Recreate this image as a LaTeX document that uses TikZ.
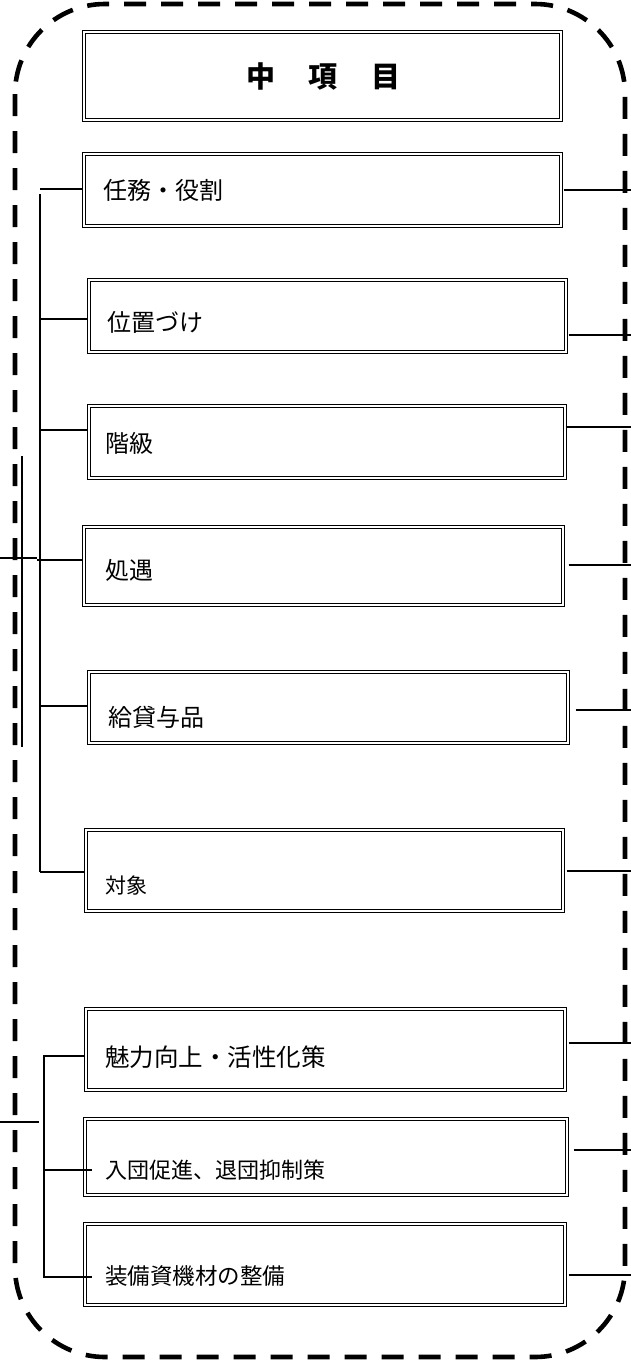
\documentclass[tikz,border=0pt]{standalone}
\usepackage{fontspec}
\newfontfamily\jp{Noto Sans CJK JP}
\usetikzlibrary{fit}
\begin{document}
\begin{tikzpicture}[x=1pt,y=-1pt,
  frame/.style={draw, line width=4.6pt, dash pattern=on 22pt off 15pt, rounded corners=90pt},
  box/.style={draw, line width=1.3pt, double, double distance=1.7pt, inner sep=0pt},
  lbl/.style={anchor=west, inner sep=0pt, font=\jp\fontsize{24pt}{28pt}\selectfont},
  lbls/.style={anchor=west, inner sep=0pt, font=\jp\fontsize{22pt}{26pt}\selectfont},
  thin/.style={draw, line width=1.4pt},
  thick/.style={draw, line width=2pt},
  conn/.style={draw, line width=1.6pt}]
\useasboundingbox (0,0) rectangle (631,1360);
% outer dashed frame
\draw[frame] (15,4) rectangle (625,1357);
% boxes
\node[box, fit={(84,32) (561,120)}] (bt) {};
\node[box, fit={(84,154) (561,226)}] (b1) {};
\node[box, fit={(89,280) (566,352)}] (b2) {};
\node[box, fit={(89,406) (565,478)}] (b3) {};
\node[box, fit={(84,527) (563,605)}] (b4) {};
\node[box, fit={(89,672) (568,743)}] (b5) {};
\node[box, fit={(86,830) (563,911)}] (b6) {};
\node[box, fit={(86,1009) (565,1090)}] (b7) {};
\node[box, fit={(85,1119) (567,1195)}] (b8) {};
\node[box, fit={(85,1224) (565,1305)}] (b9) {};
% texts
\node[font=\jp\bfseries\fontsize{29pt}{33pt}\selectfont, inner sep=0pt] (tt) at ([xshift=1pt]bt.center) {中\hspace{1.15em}項\hspace{1.15em}目};
\node[lbl] (t1) at (103,190) {任務・役割};
\node[lbl] (t2) at (107,322) {位置づけ};
\node[lbl] (t3) at (105,443) {階級};
\node[lbl] (t4) at (105,570) {処遇};
\node[lbl] (t5) at (108,717) {給貸与品};
\node[lbl, font=\jp\fontsize{21pt}{25pt}\selectfont] (t6) at (105,885) {対象};
\node[lbl, font=\jp\fontsize{24.5pt}{29pt}\selectfont] (t7) at (105,1057) {魅力向上・活性化策};
\node[lbls] (t8) at (105,1170) {入団促進、退団抑制策};
\node[lbl, font=\jp\fontsize{22.5pt}{26pt}\selectfont] (t9) at (105,1276) {装備資機材の整備};
% left spine (upper group)
\coordinate (s1) at (40,189);
\coordinate (s2) at (40,319);
\coordinate (s3) at (40,430);
\coordinate (s4) at (40,560);
\coordinate (s5) at (40,706);
\coordinate (s6) at (40,872);
\draw[thin] (40,194) -- (s6);
\draw[thin] (s1) -- (s1 -| b1.west);
\draw[thin] (s2) -- (s2 -| b2.west);
\draw[thin] (s3) -- (s3 -| b3.west);
\draw[thin] (37,560) -- (s4 -| b4.west);
\draw[thin] (s5) -- (s5 -| b5.west);
\draw[thin] (s6) -- (s6 -| b6.west);
% extra left bracket
\coordinate (v1) at (22,456);
\coordinate (v2) at (22,747);
\coordinate (h1) at (0,558);
\coordinate (h2) at (37,558);
\draw[thin] (v1) -- (v2);
\draw[thin] (h1) -- (h2);
% lower group
\coordinate (g1) at (44,1056);
\coordinate (g2) at (44,1170);
\coordinate (g3) at (44,1277);
\coordinate (e2) at (92,1170);
\coordinate (e3) at (92,1277);
\draw[thick] (g1 -| b7.west) -- (g1) -- (g3) -- (e3);
\draw[thick] (g2) -- (e2);
\coordinate (k1) at (0,1122);
\coordinate (k2) at (39,1122);
\draw[thick] (k1) -- (k2);
% right connectors
\coordinate (r1) at (631,190);
\coordinate (r2) at (631,335);
\coordinate (r3) at (631,427);
\coordinate (r4) at (631,565);
\coordinate (r5) at (631,710);
\coordinate (r6) at (631,871);
\coordinate (r7) at (631,1043);
\coordinate (r8) at (631,1150);
\coordinate (r9) at (631,1275);
\draw[conn] ([xshift=2pt]r1 -| b1.east) -- (r1);
\draw[conn] ([xshift=2pt]r2 -| b2.east) -- (r2);
\draw[conn] (r3 -| b3.east) -- (r3);
\draw[conn] ([xshift=5pt]r4 -| b4.east) -- (r4);
\draw[conn] ([xshift=7pt]r5 -| b5.east) -- (r5);
\draw[conn] ([xshift=3pt]r6 -| b6.east) -- (r6);
\draw[conn] ([xshift=3pt]r7 -| b7.east) -- (r7);
\draw[conn] ([xshift=6pt]r8 -| b8.east) -- (r8);
\draw[conn] ([xshift=3pt]r9 -| b9.east) -- (r9);
\end{tikzpicture}
\end{document}
